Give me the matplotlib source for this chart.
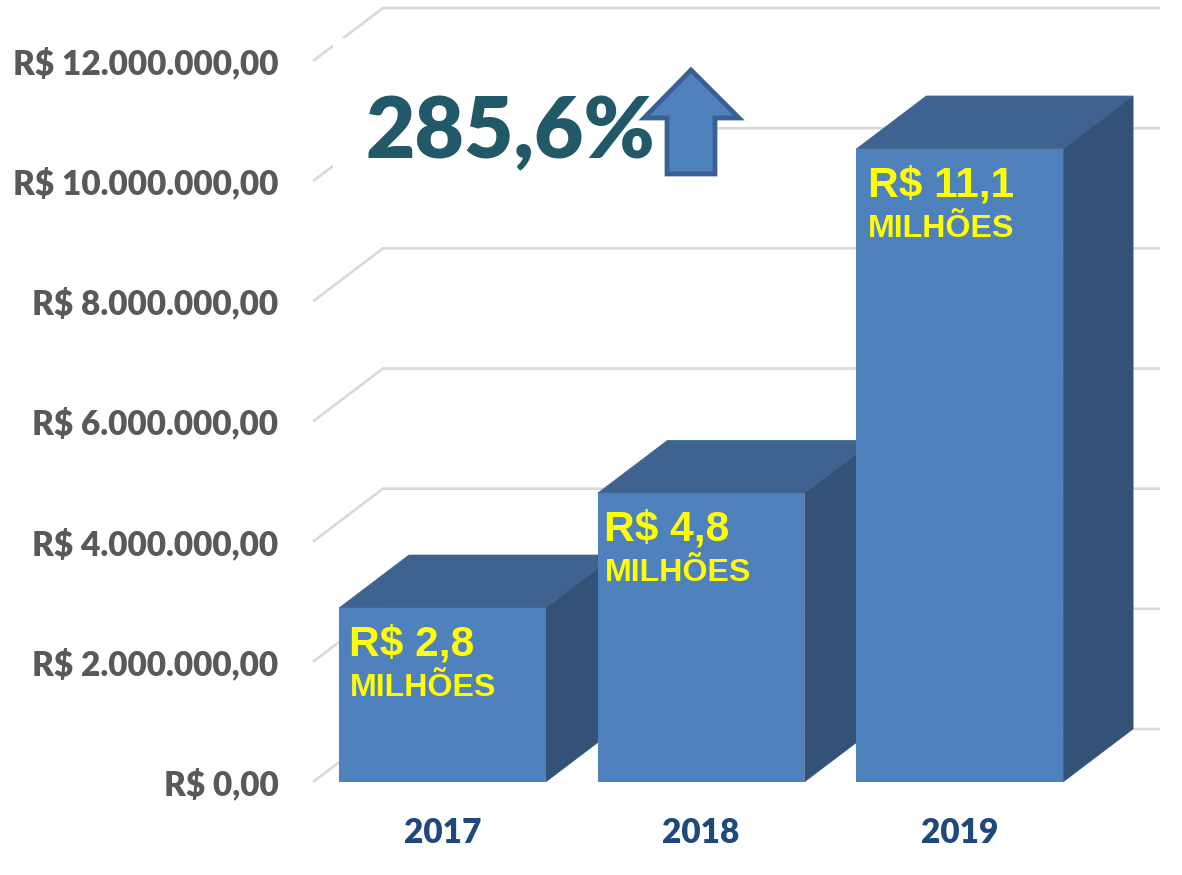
import matplotlib
matplotlib.use('Agg')
import matplotlib.pyplot as plt
from matplotlib.patches import Polygon, Rectangle
from matplotlib.transforms import Affine2D

anos = ['2017', '2018', '2019']
valores = [2897000, 4807000, 10537000]
rotulos = ['R$ 2,8', 'R$ 4,8', 'R$ 11,1']
ticks_y = [0, 2000000, 4000000, 6000000, 8000000, 10000000, 12000000]
ticks_y_txt = ['R$ 0,00', 'R$ 2.000.000,00', 'R$ 4.000.000,00', 'R$ 6.000.000,00',
               'R$ 8.000.000,00', 'R$ 10.000.000,00', 'R$ 12.000.000,00']
aumento = '285,6%'

W, H = 1182, 875
fig = plt.figure(figsize=(W / 100, H / 100), dpi=100, facecolor='white')
# plano da frente do grafico: 313..1089 px em x, 782..61 px em y
ax = fig.add_axes([313 / W, (H - 782) / H, 776 / W, 721 / H])
ax.set_xlim(-0.5, 2.5)
ax.set_ylim(0, 12000000)
for s in ax.spines.values():
    s.set_visible(False)
ax.patch.set_visible(False)

# profundidade do efeito 3D em unidades dos eixos
prof_x = 70 / 258.67
prof_y = 53 / 721 * 12000000
larg = 207 / 258.67

# pixels da imagem (origem em cima) para anotacoes
px = Affine2D().scale(1, -1).translate(0, H)

for t in ticks_y:
    ax.plot([-0.5, -0.5 + prof_x, 2.505 + prof_x], [t, t + prof_y, t + prof_y],
            color='#D9D9D9', lw=1.9, clip_on=False, zorder=1, solid_capstyle='butt',
            solid_joinstyle='miter')

# caixa branca do texto que cobre a grade
fig.add_artist(Rectangle((333, 38), 384, 148, transform=px, fc='white', ec='none', zorder=1.5))

desl_valor = [7.2, 4.8, 8.4]
desl_milhoes = [8, 5, 8.5]
for i, v in enumerate(valores):
    e = i - larg / 2
    d = i + larg / 2
    z = 3 + i
    ax.add_patch(Polygon([(e, v), (d, v), (d + prof_x, v + prof_y), (e + prof_x, v + prof_y)],
                         fc='#3E6390', ec='#3E6390', lw=0.3, clip_on=False, zorder=z))
    ax.add_patch(Polygon([(d, 0), (d + prof_x, prof_y), (d + prof_x, v + prof_y), (d, v)],
                         fc='#325278', ec='#325278', lw=0.3, clip_on=False, zorder=z))
    ax.bar(i, v, width=larg, color='#4F81BD', edgecolor='none', zorder=z + 0.1)
    ax.annotate(rotulos[i], (e, v), xytext=(desl_valor[i], -12),
                textcoords='offset points', ha='left', va='top', color='#FFFF00',
                fontsize=30.5, fontweight='bold', family='Liberation Sans', zorder=10)
    ax.annotate('MILHÕES', (e, v), xytext=(desl_milhoes[i], -47),
                textcoords='offset points', ha='left', va='top', color='#FFFF00',
                fontsize=23.1, fontweight='bold', family='Liberation Sans', zorder=10)

ax.set_yticks(ticks_y)
ax.set_yticklabels(ticks_y_txt, family='Lato', fontweight='heavy', fontsize=24, color='#595959')
ax.set_xticks(range(len(anos)))
ax.set_xticklabels(anos, family='Lato', fontweight='heavy', fontsize=24, color='#1F497D')
ax.tick_params(axis='y', length=0, pad=25)
ax.tick_params(axis='x', length=0, pad=25.5)

fig.text(366, 158, aumento, transform=px, family='Lato', fontweight='heavy', fontsize=61.5,
         color='#215968', ha='left', va='baseline', zorder=5)

# seta
seta = [(691, 70), (739, 118), (715, 118), (715, 174), (667, 174), (667, 118), (644, 118)]
fig.add_artist(Polygon(seta, closed=True, transform=px, fc='#4F81BD', ec='#3A5F92', lw=3.4,
                       joinstyle='miter', zorder=6))

fig.savefig('out.png', dpi=100)
